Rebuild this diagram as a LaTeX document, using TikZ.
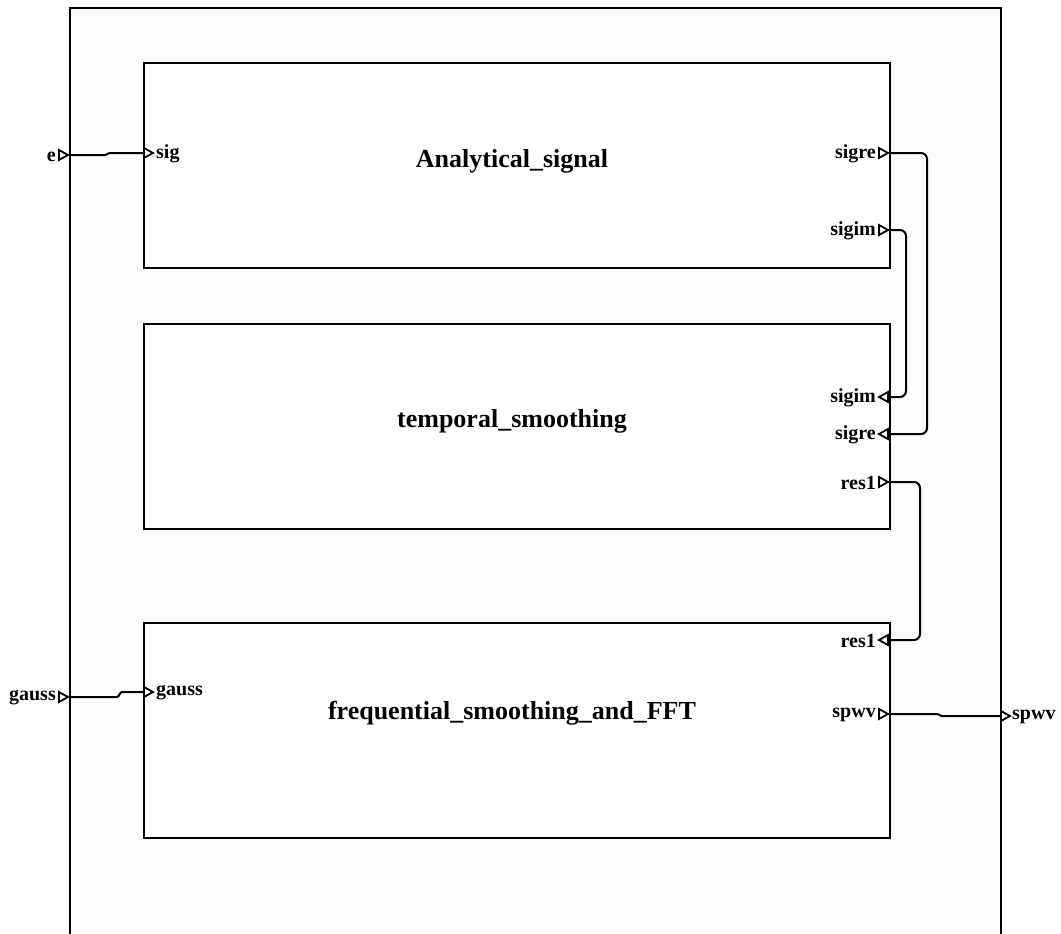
\documentclass[tikz,border=0pt]{standalone}
\usepackage{fontspec}
\setmainfont{Liberation Serif}
\begin{document}
\begin{tikzpicture}[x=1pt,y=-1pt,
  outerbox/.style={draw, line width=2pt, fill=black!1, inner sep=0pt, anchor=north west},
  blockbox/.style={draw, line width=2pt, fill=white, inner sep=0pt, anchor=north west},
  title/.style={font=\fontsize{26}{30}\selectfont\bfseries, inner sep=0pt},
  plab/.style={font=\fontsize{20}{23}\selectfont\bfseries, inner sep=0pt},
  wire/.style={line width=2pt, rounded corners=6pt},
  tri/.pic={\draw[line width=1.8pt, fill=white, line join=miter] (-9,-5) -- (0,0) -- (-9,5) -- cycle;}
]
\useasboundingbox (0,0) rectangle (1061,934);
\clip (0,0) rectangle (1061,934);
\fill[white] (0,0) rectangle (1061,934);
\node[outerbox, minimum width=931pt, minimum height=945pt] (outer) at (69,7) {};
\node[blockbox, minimum width=746pt, minimum height=205pt] (A) at (143,62) {};
\node[blockbox, minimum width=746pt, minimum height=205pt] (T) at (143,323) {};
\node[blockbox, minimum width=746pt, minimum height=215pt] (F) at (143,622) {};
\node[title] (tA) at (512,161) {Analytical\_signal};
\node[title] (tT) at (512,421) {temporal\_smoothing};
\node[title] (tF) at (512,713) {frequential\_smoothing\_and\_FFT};

% port coordinates
\coordinate (pe) at (69,155);
\coordinate (psig) at (143,153);
\coordinate (pAre) at (889,153);
\coordinate (pAim) at (889,230);
\coordinate (pTim) at (889,397);
\coordinate (pTre) at (889,434);
\coordinate (pTres) at (889,482);
\coordinate (pFres) at (889,640);
\coordinate (pg) at (69,697);
\coordinate (pFg) at (143,692);
\coordinate (pFsp) at (889,714);
\coordinate (psp) at (1000,716);

% wires
\draw[wire, rounded corners=1pt] (pe) -- (106,155) -- (109,153) -- (psig);
\draw[wire, rounded corners=1pt] (pg) -- (118,697) -- (121,692) -- (pFg);
\draw[wire, rounded corners=1pt] (pFsp) -- (938,714) -- (941,716) -- (psp);
\draw[wire] (pAre) -- (927,153) -- (927,434) -- (pTre);
\draw[wire] (pAim) -- (906,230) -- (906,397) -- (pTim);
\draw[wire] (pTres) -- (920,482) -- (920,640) -- (pFres);

% triangles
\pic at (68,155) {tri};
\pic at (153,153) {tri};
\pic at (888,153) {tri};
\pic at (888,230) {tri};
\pic[xscale=-1] at (879,397) {tri};
\pic[xscale=-1] at (879,434) {tri};
\pic at (888,482) {tri};
\pic[xscale=-1] at (879,640) {tri};
\pic at (68,697) {tri};
\pic at (153,692) {tri};
\pic at (888,714) {tri};
\pic at (1010,716) {tri};

% labels
\node[plab, anchor=east] (le) at (56,157) {e};
\node[plab, anchor=west] (lsig) at (156,154) {sig};
\node[plab, anchor=east] (lAre) at (876,154) {sigre};
\node[plab, anchor=east] (lAim) at (876,231) {sigim};
\node[plab, anchor=east] (lTim) at (876,398) {sigim};
\node[plab, anchor=east] (lTre) at (876,435) {sigre};
\node[plab, anchor=east] (lTres) at (876,483) {res1};
\node[plab, anchor=east] (lFres) at (876,641) {res1};
\node[plab, anchor=east] (lg) at (56,698) {gauss};
\node[plab, anchor=west] (lFg) at (156,693) {gauss};
\node[plab, anchor=east] (lFsp) at (876,715) {spwv};
\node[plab, anchor=west] (lsp) at (1012,717) {spwv};
\end{tikzpicture}
\end{document}
